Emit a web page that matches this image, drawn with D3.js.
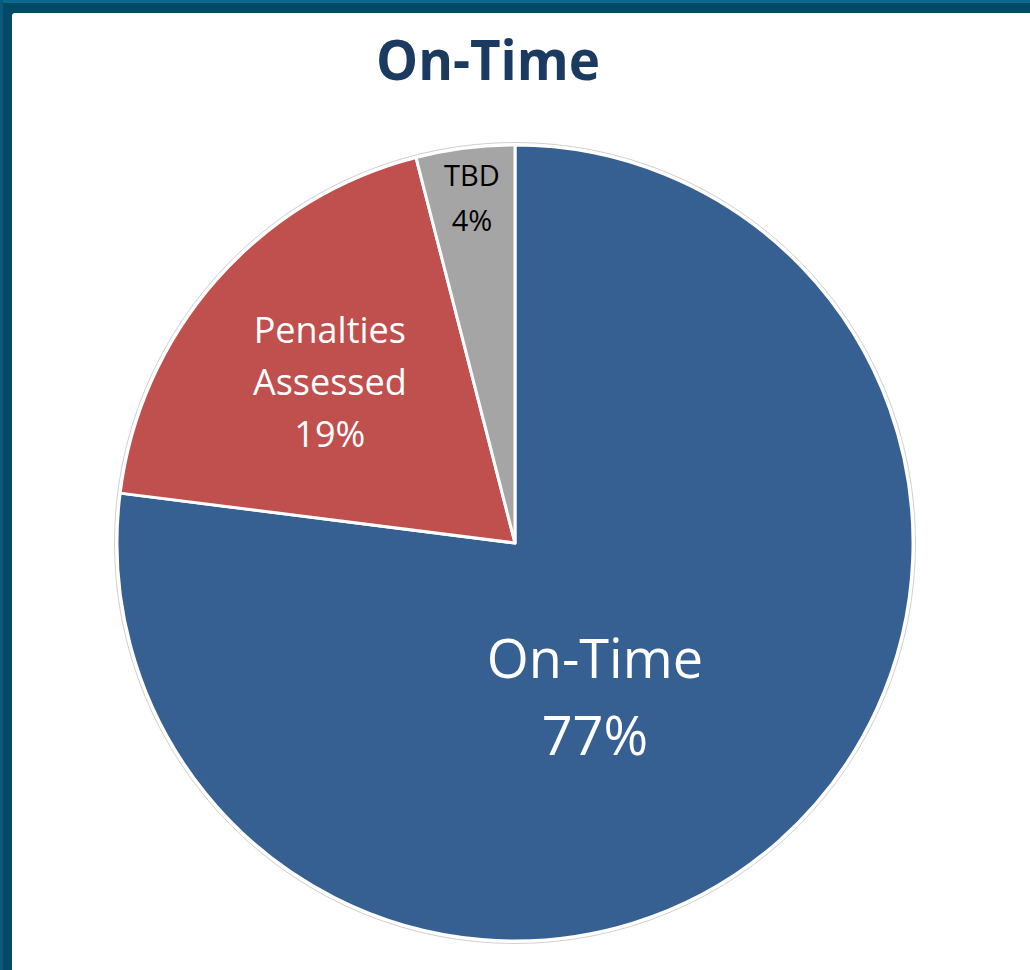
<!DOCTYPE html>
<html><head><meta charset="utf-8">
<script src="https://cdn.jsdelivr.net/npm/d3@7/dist/d3.min.js"></script>
<style>html,body{margin:0;padding:0;background:#fff;overflow:hidden}svg{display:block}</style>
</head><body>
<svg id="c" width="1030" height="970"></svg>
<script>
const categories = ["On-Time", "Penalties Assessed", "TBD"];
const values = [77, 19, 4];
const labelLines = [["On-Time", "77%"], ["Penalties", "Assessed", "19%"], ["TBD", "4%"]];
const title = "On-Time";

const colors = ["#376092", "#c0504d", "#a5a5a5"];
const textColors = ["#ffffff", "#ffffff", "#000000"];
const fontSizes = [54, 36, 29];
const lineHeights = [77, 52, 45];
const labelR = [176, 239, 334];
const angleShift = [14.4, -2.2, -0.9]; // degrees
const labelDx = [0, 0, 4];
const labelDy = [-3, -10, -14];

const W = 1030, H = 970;
const svg = d3.select("#c");

// frame
svg.append("rect").attr("x",0).attr("y",0).attr("width",W).attr("height",H).attr("fill","#004a66");
svg.append("rect").attr("x",0).attr("y",0).attr("width",W).attr("height",3).attr("fill","#0d6a8e");
svg.append("rect").attr("x",0).attr("y",0).attr("width",3).attr("height",H).attr("fill","#0a5a7a");
svg.append("rect").attr("x",12).attr("y",13).attr("width",W).attr("height",H).attr("rx",3).attr("fill","#ffffff");

svg.append("text").attr("x",488).attr("y",80).attr("text-anchor","middle")
  .attr("font-family","'Open Sans', sans-serif").attr("font-weight",700)
  .attr("font-size",56).attr("fill","#1b3a5f").attr("textLength",224).attr("lengthAdjust","spacingAndGlyphs")
  .text(title);

const cx = 515, cy = 543, R = 398;
const g = svg.append("g").attr("transform",`translate(${cx},${cy})`);

const pie = d3.pie().sort(null).value(d => d);
const arcs = pie(values);
const arc = d3.arc().innerRadius(0).outerRadius(R);

g.append("circle").attr("r", R + 2.5).attr("fill","none").attr("stroke","#d0d0d0").attr("stroke-width",1);

g.selectAll("path.slice").data(arcs).enter().append("path")
  .attr("class","slice").attr("d",arc)
  .attr("fill",(d,i)=>colors[i]).attr("stroke","#ffffff").attr("stroke-width",3).attr("stroke-linejoin","round");

arcs.forEach((d,i) => {
  const a = (d.startAngle + d.endAngle)/2 + angleShift[i]*Math.PI/180;
  const x = labelR[i]*Math.sin(a) + labelDx[i], y = -labelR[i]*Math.cos(a) + labelDy[i];
  const lines = labelLines[i];
  const fs = fontSizes[i], lh = lineHeights[i];
  const firstBase = y - (lines.length-1)*lh/2 + fs*0.36;
  const t = g.append("text").attr("text-anchor","middle")
    .attr("font-family","'Open Sans', sans-serif").attr("font-size",fs).attr("fill",textColors[i]);
  lines.forEach((ln,k) => {
    t.append("tspan").attr("x",x).attr("y",firstBase + k*lh).text(ln);
  });
});
</script>
</body></html>
